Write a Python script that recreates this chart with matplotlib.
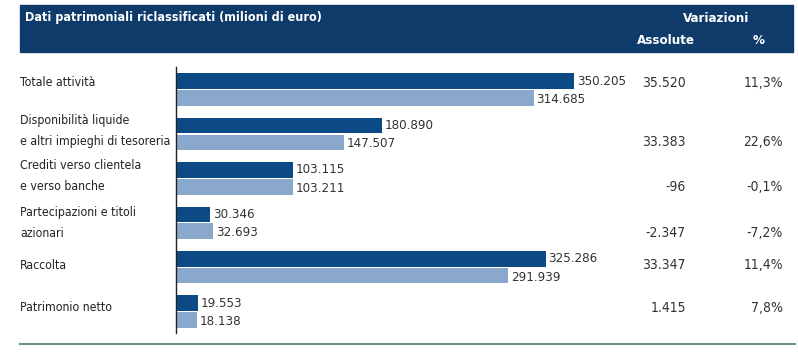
import numpy as np
import matplotlib.pyplot as plt
from matplotlib.patches import Rectangle
from matplotlib.lines import Line2D
from matplotlib.transforms import blended_transform_factory

# Dati patrimoniali riclassificati (milioni di euro)
categorie = ["Totale attività",
             "Disponibilità liquide\ne altri impieghi di tesoreria",
             "Crediti verso clientela\ne verso banche",
             "Partecipazioni e titoli\nazionari",
             "Raccolta",
             "Patrimonio netto"]
anno_corrente = [350205, 180890, 103115, 30346, 325286, 19553]
anno_precedente = [314685, 147507, 103211, 32693, 291939, 18138]
var_assolute = ["35.520", "33.383", "-96", "-2.347", "33.347", "1.415"]
var_percentuali = ["11,3%", "22,6%", "-0,1%", "-7,2%", "11,4%", "7,8%"]

def fmt(v):
    return f"{v:,}".replace(",", ".")

plt.rcParams['font.family'] = ['DejaVu Sans']
plt.rcParams['font.stretch'] = 'condensed'

blu_scuro = '#0c4a86'
blu_chiaro = '#8aa7cc'
blu_header = '#0f3b6b'
grigio = '#333333'

W, H = 798, 356
fig = plt.figure(figsize=(W / 100, H / 100), dpi=100)

def fx(px):
    return px / W

def fy(py):
    return 1 - py / H

# assi: x da 176 a 793 px, y da 67 a 333 px
ax = fig.add_axes([fx(176), fy(333), fx(793) - fx(176), fy(67) - fy(333)])
n = len(categorie)
y = np.arange(n)
h = 0.35
off = 0.19
ax.barh(y - off, anno_corrente, height=h, color=blu_scuro)
ax.barh(y + off, anno_precedente, height=h, color=blu_chiaro)
ax.set_xlim(0, 617 / 0.0011366)
ax.set_ylim(5.48, -0.507)

for i in range(n):
    ax.text(anno_corrente[i] + 2500, y[i] - off, fmt(anno_corrente[i]),
            va='center', ha='left', fontsize=9.5, color=grigio)
    ax.text(anno_precedente[i] + 2500, y[i] + off + 0.03, fmt(anno_precedente[i]),
            va='center', ha='left', fontsize=9.5, color=grigio)

for s in ['top', 'right', 'bottom']:
    ax.spines[s].set_visible(False)
ax.spines['left'].set_color('#222222')
ax.spines['left'].set_linewidth(1)
ax.set_xticks([])
ax.set_yticks([])

# etichette a sinistra e colonne delle variazioni
tr = blended_transform_factory(fig.transFigure, ax.transData)
off_lab = [-0.15, -0.07, -0.05, 0.0, -0.03, -0.1]
off_var = [-0.15, 0.18, 0.2, 0.22, -0.05, -0.08]
for i in range(n):
    ax.text(fx(20), y[i] + off_lab[i], categorie[i], transform=tr, ha='left', va='center',
            fontsize=8.8, color='#222222', linespacing=1.8)
    ax.text(fx(686), y[i] + off_var[i], var_assolute[i], transform=tr, ha='right',
            va='center', fontsize=10, color=grigio)
    ax.text(fx(783), y[i] + off_var[i], var_percentuali[i], transform=tr, ha='right',
            va='center', fontsize=10, color=grigio)

# intestazione
fig.patches.append(Rectangle((fx(20), fy(52)), fx(793) - fx(20), fy(5) - fy(52),
                             transform=fig.transFigure, color=blu_header, zorder=0))
fig.text(fx(25), fy(17), "Dati patrimoniali riclassificati (milioni di euro)",
         ha='left', va='center', color='white', fontsize=9, fontweight='bold')
fig.text(fx(716), fy(18), "Variazioni", ha='center', va='center', color='white',
         fontsize=9.5, fontweight='bold')
fig.text(fx(695), fy(41), "Assolute", ha='right', va='center', color='white',
         fontsize=9.5, fontweight='bold')
fig.text(fx(765), fy(41), "%", ha='right', va='center', color='white',
         fontsize=9.5, fontweight='bold')

# linea di chiusura
fig.lines.append(Line2D([fx(20), fx(795)], [fy(344), fy(344)], transform=fig.transFigure,
                        color='#6f8f8a', linewidth=1.5))

fig.savefig('out.png', dpi=100, facecolor='white')
